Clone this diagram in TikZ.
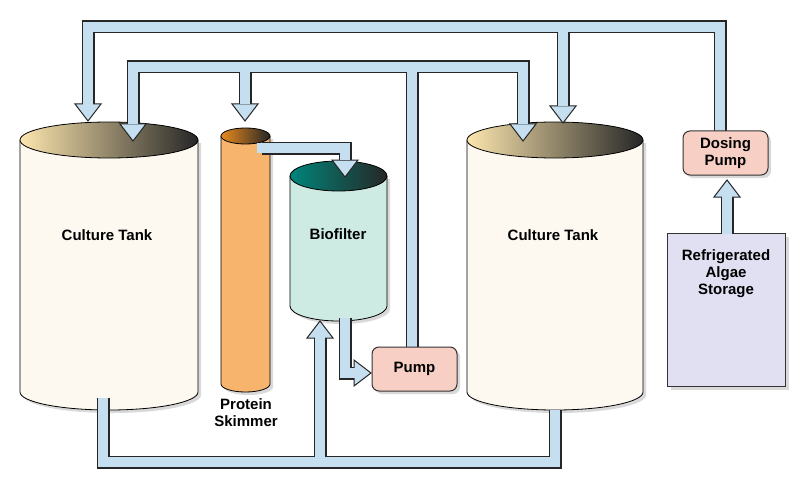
\documentclass[tikz,border=0pt]{standalone}
\usepackage{fontspec}
\setmainfont{Liberation Sans}
\usetikzlibrary{shadows}
\definecolor{pipe}{HTML}{C5DEF0}
\definecolor{tankbody}{HTML}{FDF9F1}
\definecolor{tanktop}{HTML}{FCE6AE}
\definecolor{skim}{HTML}{F6B46C}
\definecolor{skimtop}{HTML}{E88A1E}
\definecolor{bio}{HTML}{CDEBE3}
\definecolor{biotop}{HTML}{00857A}
\definecolor{pumpc}{HTML}{F7CFC4}
\definecolor{store}{HTML}{E1E0F3}
\newcommand\cyl[8]{% x1 x2 ytop ry ybot bodycolor topcolor midcolor
  \fill[#6,drop shadow={shadow xshift=3pt,shadow yshift=-3pt,opacity=.3}] (#1,#3) -- (#1,#5) arc[start angle=180,end angle=0,x radius={(#2-#1)/2},y radius=#4] -- (#2,#3) -- cycle;
  \draw[line width=.8] (#1,#3) -- (#1,#5) arc[start angle=180,end angle=0,x radius={(#2-#1)/2},y radius=#4] -- (#2,#3);
  \draw[line width=.8,left color=#7,middle color=#8,right color=black!85] ({(#1+#2)/2},#3) ellipse[x radius={(#2-#1)/2},y radius=#4];}
\newcommand\arD[2]{\filldraw[arrowst] (#1,#2) -- ++(-13,-17) -- ++(26,0) -- cycle;}
\newcommand\arU[2]{\filldraw[arrowst] (#1,#2) -- ++(-13,17) -- ++(26,0) -- cycle;}
\newcommand\arR[2]{\filldraw[arrowst] (#1,#2) -- ++(-17,-13) -- ++(0,26) -- cycle;}
\tikzset{arrowst/.style={fill=pipe,draw=black!85,line width=1,line join=miter},
  lab/.style={font=\bfseries\fontsize{15}{17}\selectfont,align=center},
  box/.style={draw=black!80,line width=1,rounded corners=7,fill=pumpc,lab,drop shadow={shadow xshift=3pt,shadow yshift=-3pt,opacity=.3}}}
\begin{document}
\begin{tikzpicture}[x=1pt,y=-1pt]
\useasboundingbox (0,0) rectangle (800,484);
% shapes
\cyl{20}{198}{140}{18}{392}{tankbody}{tanktop}{tanktop!55!black!70!tanktop}
\cyl{467}{643}{140}{18}{392}{tankbody}{tanktop}{tanktop!55!black!70!tanktop}
\cyl{221}{270}{136}{8}{384}{skim}{skimtop}{skimtop!60!black}
\cyl{290}{387}{176}{15}{306}{bio}{biotop}{biotop!70!black}
\node[draw=black!80,line width=1,fill=store,minimum width=118,minimum height=153,anchor=north west,drop shadow={shadow xshift=3pt,shadow yshift=-3pt,opacity=.3}] (store) at (667,233) {};
\node[lab] (st) at (726,274) {Refrigerated\\Algae\\Storage};
\node[lab] (lt) at (107,235) {Culture Tank};
\node[lab] (rt) at (553,235) {Culture Tank};
\node[lab] (bf) at (338,234) {Biofilter};
\node[lab] (ps) at (246,413) {Protein\\Skimmer};
\newcommand\pipes[1]{%
 \draw[#1] (88,106) -- (88,27) -- (720,27) -- (720,132);
 \draw[#1] (563,27) -- (563,106);
 \draw[#1] (133,124) -- (133,67) -- (523,67) -- (523,124);
 \draw[#1] (245,67) -- (245,104);
 \draw[#1] (412,67) -- (412,349);
 \draw[#1] (262,148) -- (345,148) -- (345,160);
 \draw[#1] (345,318) -- (345,373) -- (355,373);
 \draw[#1] (103,398) -- (103,462) -- (555,462) -- (555,410);
 \draw[#1] (320,462) -- (320,337);
 \draw[#1] (727,234) -- (727,196);}
\pipes{line width=13,black!85,line join=miter}
\arD{88}{121}\arD{133}{141}\arD{245}{121}\arD{523}{141}\arD{563}{123}\arD{345}{177}
\arU{320}{321}\arU{727}{180}\arR{371}{373}
\pipes{line width=10.5,pipe,line join=miter}
\fill[pipe] (256.5,142.7) rectangle (266,153.3);
\fill[pipe] (406.7,330) rectangle (417.3,352);
\node[box,minimum width=85,minimum height=44] (pump) at (414.5,369) {Pump};
\node[box,minimum width=85,minimum height=44] (dp) at (725.5,153) {Dosing\\Pump};
\end{tikzpicture}
\end{document}
